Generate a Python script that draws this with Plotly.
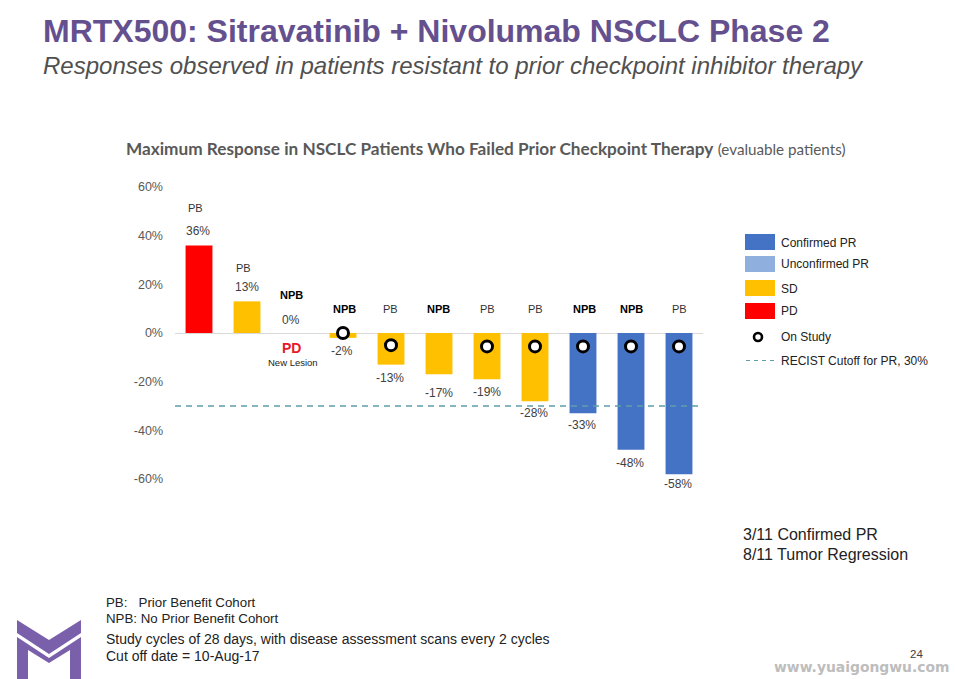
import plotly.graph_objects as go

# ---- data ----
patients = list(range(11))
values = [36, 13, 0, -2, -13, -17, -19, -28, -33, -48, -58]
status = ["PD", "SD", "PD", "SD", "SD", "SD", "SD", "SD", "PR", "PR", "PR"]
cohort = ["PB", "PB", "NPB", "NPB", "PB", "NPB", "PB", "PB", "NPB", "NPB", "PB"]
on_study_patients = [3, 4, 6, 7, 8, 9, 10]
on_study_level = [0, -5, -5.5, -5.5, -5.5, -5.5, -5.5]
recist_cutoff = -30
y_ticks = [60, 40, 20, 0, -20, -40, -60]
y_tick_labels = ["60%", "40%", "20%", "0%", "-20%", "-40%", "-60%"]
legend_names = ["Confirmed PR", "Unconfirmed PR", "SD", "PD", "On Study", "RECIST Cutoff for PR, 30%"]

# ---- style / placement ----
W, H = 955, 679
colors = {"PR": "#4472C4", "UPR": "#8FB0DF", "SD": "#FFC000", "PD": "#FF0000"}
PURPLE = "#65508F"
value_label_px = [231, 287, 320, 351, 378, 393, 392, 413, 425, 463, 484]
value_label_dx = [-1, 0, -4, -1, -1, 0, 0, -1, -1, -1, -1]
cohort_label_px = [208, 268, 295, 309, 309, 309, 309, 309, 309, 309, 309]
cohort_label_dx = [-4, -4, -4, 1, -1, -1, 0, 0, 1, 0, 0]
ARIAL = "Liberation Sans"


def px(x):
    return x / W


def py(y):
    return 1 - y / H


def text(x, y, s, size, color="#000000", anchor="left", xref="paper", bold=False, italic=False, family=ARIAL):
    if bold:
        s = f"<b>{s}</b>"
    if italic:
        s = f"<i>{s}</i>"
    return dict(
        x=px(x) if xref == "paper" else x, y=py(y), xref=xref, yref="paper", text=s, showarrow=False,
        xanchor=anchor, yanchor="middle", font=dict(family=family, size=size, color=color),
        align="left", borderpad=0, borderwidth=0,
    )


fig = go.Figure()
fig.add_trace(go.Bar(
    x=patients, y=values, width=0.56,
    marker=dict(color=[colors[s] for s in status], line=dict(width=0)),
    hoverinfo="x+y", showlegend=False,
))
fig.add_trace(go.Scatter(
    x=on_study_patients, y=on_study_level, mode="markers",
    marker=dict(symbol="circle", size=11, color="white", line=dict(color="black", width=3)),
    showlegend=False, name="On Study",
))

ann = []
ann.append(text(43, 31, "MRTX500: Sitravatinib + Nivolumab NSCLC Phase 2", 32, PURPLE, bold=True))
ann.append(text(43, 65, "Responses observed in patients resistant to prior checkpoint inhibitor therapy", 24, "#505050", italic=True))
ann.append(text(126, 148, "<b>Maximum Response in NSCLC Patients Who Failed Prior Checkpoint Therapy</b>"
                          " <span style='font-size:15.2px'>(evaluable patients)</span>",
                17.2, "#595959", family="Lato"))

for i in patients:
    a = text(i, cohort_label_px[i], cohort[i], 11, "#000000" if cohort[i] == "NPB" else "#333333",
             anchor="center", xref="x", bold=cohort[i] == "NPB")
    a["xshift"] = cohort_label_dx[i]
    ann.append(a)
    a = text(i, value_label_px[i], f"{values[i]}%", 12, "#404040", anchor="center", xref="x")
    a["xshift"] = value_label_dx[i]
    ann.append(a)

ann.append(text(2 - 0.08, 348, "PD", 14, "#E8192C", anchor="center", xref="x", bold=True))
ann.append(text(2 - 0.05, 362, "New Lesion", 9.5, "#222222", anchor="center", xref="x"))

# legend
shapes = []
rows_px = [242, 264, 288, 311, 336, 360]
for name, y, key in zip(legend_names[:4], rows_px[:4], ["PR", "UPR", "SD", "PD"]):
    shapes.append(dict(type="rect", xref="paper", yref="paper", x0=px(745), x1=px(775),
                       y0=py(y + 8), y1=py(y - 8), fillcolor=colors[key], line=dict(width=0)))
shapes.append(dict(type="circle", xref="paper", yref="paper", x0=px(754), x1=px(762),
                   y0=py(341), y1=py(333), fillcolor="white", line=dict(color="black", width=2.6)))
shapes.append(dict(type="line", xref="paper", yref="paper", x0=px(746), x1=px(775),
                   y0=py(360.5), y1=py(360.5), line=dict(color="#5F9EA8", width=1.2, dash="4px,4px")))
for name, y in zip(legend_names, rows_px):
    ann.append(text(781, y + 0.5, name, 12, "#222222"))

# right notes
ann.append(text(743, 534, "3/11 Confirmed PR", 16, "#222222"))
ann.append(text(743, 554, "8/11 Tumor Regression", 16, "#222222"))

# footnotes
ann.append(text(106, 602, "PB:&#160;&#160;&#160;Prior Benefit Cohort", 13.3, "#222222"))
ann.append(text(106, 618, "NPB: No Prior Benefit Cohort", 13.3, "#222222"))
ann.append(text(106, 639, "Study cycles of 28 days, with disease assessment scans every 2 cycles", 14, "#222222"))
ann.append(text(106, 656, "Cut off date = 10-Aug-17", 14, "#222222"))
ann.append(text(923, 654, "24", 11.5, "#404040", anchor="right"))
ann.append(text(950, 667, "www.yuaigongwu.com", 13.9, "#BDBDBD", anchor="right", bold=True, family="DejaVu Sans"))


def poly(points):
    return "M" + " L".join(f"{px(a):.4f},{py(b):.4f}" for a, b in points) + " Z"


# logo
shapes.append(dict(type="path", xref="paper", yref="paper", line=dict(width=0), fillcolor="#7A5FAB",
                   path=poly([(17, 620), (49, 640), (81, 620), (81, 633), (49, 654), (17, 633)])))
shapes.append(dict(type="path", xref="paper", yref="paper", line=dict(width=0), fillcolor="#7A5FAB",
                   path=poly([(17, 637), (49, 658), (81, 637), (81, 679), (70, 679), (70, 650),
                               (49, 663), (28, 650), (28, 679), (17, 679)])))

# RECIST cutoff
shapes.append(dict(type="line", xref="paper", yref="y", x0=px(175), x1=px(700), y0=recist_cutoff, y1=recist_cutoff,
                   line=dict(color="#5F9EA8", width=1.3, dash="6px,5px"), layer="above"))

fig.update_layout(
    width=W, height=H, margin=dict(l=0, r=0, t=0, b=0, autoexpand=False),
    paper_bgcolor="white", plot_bgcolor="white", showlegend=False,
    xaxis=dict(domain=[px(175), px(703)], range=[-0.5, 10.5], visible=False, fixedrange=True),
    yaxis=dict(domain=[py(479), py(187)], range=[-60, 60], tickvals=y_ticks, ticktext=y_tick_labels,
               showgrid=False, zeroline=True, zerolinecolor="#D9D9D9", zerolinewidth=1, showline=False,
               ticks="", ticklabelstandoff=11, tickfont=dict(family=ARIAL, size=12.5, color="#595959"),
               fixedrange=True),
    annotations=ann, shapes=shapes, hovermode="closest",
)
fig.write_html("out.html", config={"displayModeBar": False},
               post_script="document.body.style.margin='0';")
